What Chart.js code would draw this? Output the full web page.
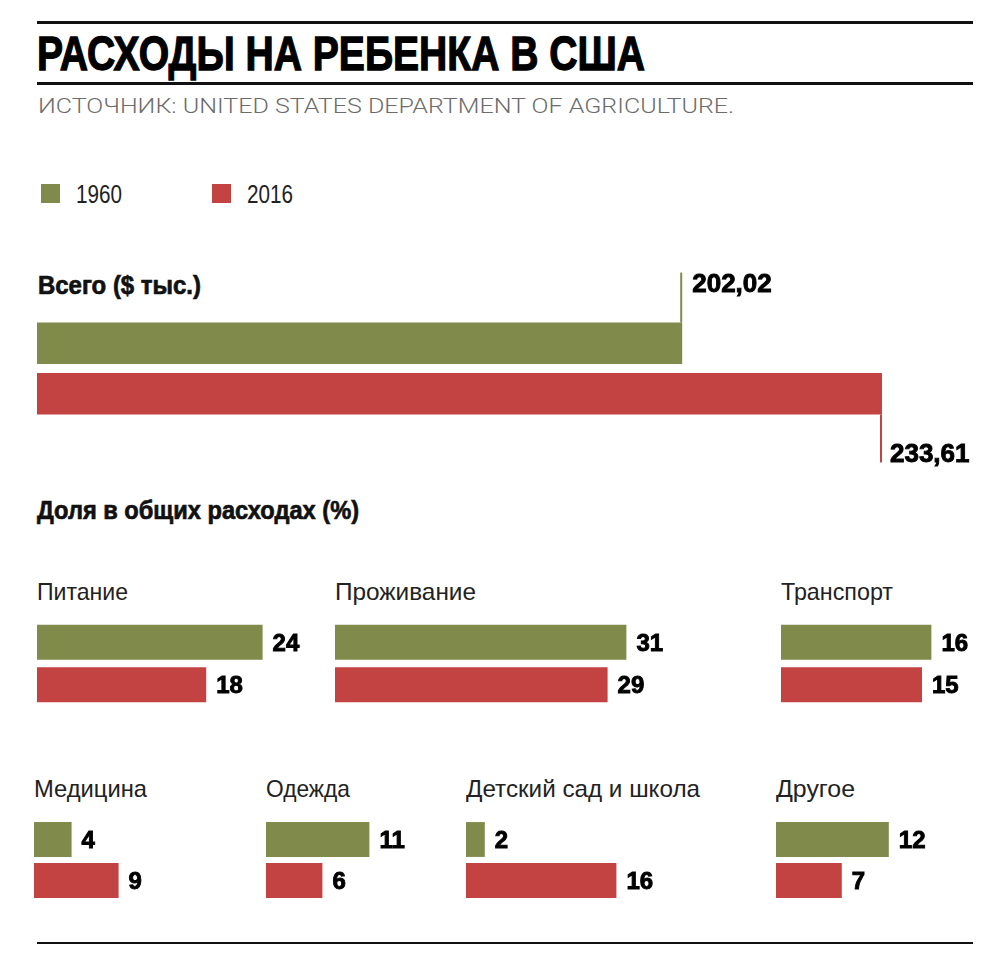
<!DOCTYPE html>
<html>
<head>
<meta charset="utf-8">
<script src="https://cdn.jsdelivr.net/npm/chart.js@4.4.1/dist/chart.umd.min.js"></script>
<style>
  html, body { margin: 0; padding: 0; background: #fff; }
  #page { position: relative; width: 1000px; height: 969px; overflow: hidden;
          font-family: "Liberation Sans Narrow", "Liberation Sans", Arial, sans-serif; color: #111; }
  .rule { position: absolute; left: 37px; width: 936px; background: #111; }
  .txt { position: absolute; white-space: nowrap; line-height: 1; transform-origin: 0 0; }
  .bold { font-weight: bold; -webkit-text-stroke: 0.7px #111; }
  .heavy { font-weight: bold; -webkit-text-stroke: 1.3px #000; color: #000; }
  .swatch { position: absolute; width: 19px; height: 19px; }
  canvas { position: absolute; }
</style>
</head>
<body>
<div id="page">
  <div class="rule" style="top:21px;height:3px"></div>
  <div class="txt heavy" data-w="608" style="left:37px;top:29px;font-size:49px">РАСХОДЫ НА РЕБЕНКА В США</div>
  <div class="rule" style="top:82px;height:2.5px"></div>
  <div class="txt" data-w="696" style="left:38px;top:96px;font-size:21px;color:#6b6b6b;font-family:Roboto,'Liberation Sans',sans-serif;font-weight:300">ИСТОЧНИК: UNITED STATES DEPARTMENT OF AGRICULTURE.</div>

  <div id="legend"></div>

  <div class="txt bold" data-w="163" style="left:38px;top:272px;font-size:26px">Всего ($ тыс.)</div>
  <canvas id="total" width="1000" height="220" style="left:0;top:260px"></canvas>

  <div class="txt bold" data-w="322" style="left:37px;top:497px;font-size:26px">Доля в общих расходах (%)</div>

  <div id="small"></div>

  <div class="rule" style="top:942px;height:2px"></div>
</div>

<script>
// data
const years = ['1960', '2016'];
const totals = [202.02, 233.61];
const categories = ['Питание', 'Проживание', 'Транспорт', 'Медицина', 'Одежда', 'Детский сад и школа', 'Другое'];
const share1960 = [24, 31, 16, 4, 11, 2, 12];
const share2016 = [18, 29, 15, 9, 6, 16, 7];

const colors = ['#7f8a4b', '#c24341'];

// where each small chart sits: left edge, row, label width
const smallPos = [
  { x: 37, row: 0, w: 91 },
  { x: 335, row: 0, w: 141 },
  { x: 781, row: 0, w: 112 },
  { x: 34, row: 1, w: 113 },
  { x: 266, row: 1, w: 84 },
  { x: 466, row: 1, w: 234 },
  { x: 776, row: 1, w: 79 }
];
const rows = [
  { labelTop: 580, top: 621, height: 85, barPct: 0.82 },
  { labelTop: 777, top: 819, height: 82, barPct: 0.85 }
];

const page = document.getElementById('page');

// legend
const legendX = [41, 212];
years.forEach((y, i) => {
  const sw = document.createElement('div');
  sw.className = 'swatch';
  sw.style.left = legendX[i] + 'px';
  sw.style.top = '184px';
  sw.style.background = colors[i];
  page.appendChild(sw);
  const t = document.createElement('div');
  t.className = 'txt';
  t.dataset.w = 46;
  t.style.left = (legendX[i] + 35) + 'px';
  t.style.top = '181px';
  t.style.fontSize = '26px';
  t.style.color = '#222';
  t.textContent = y;
  page.appendChild(t);
});

// value labels (and leader lines for the totals)
const valueLabels = {
  id: 'valueLabels',
  afterDatasetsDraw(chart, args, opts) {
    const ctx = chart.ctx;
    chart.data.datasets.forEach((ds, i) => {
      chart.getDatasetMeta(i).data.forEach((bar, j) => {
        const text = opts.format(ds.data[j]);
        const half = bar.height / 2;
        let tx, ty;
        ctx.save();
        if (opts.leaders) {
          ctx.strokeStyle = ds.backgroundColor;
          ctx.lineWidth = 2;
          ctx.beginPath();
          if (i === 0) {
            const top = bar.y - half;
            ctx.moveTo(bar.x - 1, top);
            ctx.lineTo(bar.x - 1, top - 50);
            tx = bar.x + 10; ty = top - 31;
          } else {
            const bottom = bar.y + half;
            ctx.moveTo(bar.x - 1, bottom);
            ctx.lineTo(bar.x - 1, bottom + 48);
            tx = bar.x + 8; ty = bottom + 48;
          }
          ctx.stroke();
        } else {
          tx = bar.x + 10; ty = bar.y + opts.size * 0.36;
        }
        ctx.fillStyle = '#000';
        ctx.strokeStyle = '#000';
        ctx.lineWidth = 0.9;
        ctx.font = 'bold ' + opts.size + 'px "Liberation Sans", Arial, sans-serif';
        ctx.textBaseline = 'alphabetic';
        ctx.fillText(text, tx, ty);
        ctx.strokeText(text, tx, ty);
        ctx.restore();
      });
    });
  }
};

function baseOptions(xMin, xMax, padding, barPct, labelOpts) {
  return {
    indexAxis: 'y',
    responsive: false,
    animation: false,
    layout: { padding: padding },
    datasets: { bar: { categoryPercentage: 1, barPercentage: barPct } },
    scales: {
      x: { display: false, min: xMin, max: xMax },
      y: { display: false }
    },
    plugins: {
      legend: { display: false },
      tooltip: { enabled: false },
      valueLabels: labelOpts
    }
  };
}

// totals chart
new Chart(document.getElementById('total'), {
  type: 'bar',
  data: {
    labels: ['Всего'],
    datasets: years.map((y, i) => ({ label: y, data: [totals[i]], backgroundColor: colors[i], borderWidth: 0 }))
  },
  options: baseOptions(100, 248, { left: 37, right: 27, top: 58, bottom: 61 }, 0.82,
    { leaders: true, size: 26, format: v => v.toFixed(2).replace('.', ',') }),
  plugins: [valueLabels]
});

// small share charts
categories.forEach((cat, k) => {
  const pos = smallPos[k];
  const row = rows[pos.row];

  const t = document.createElement('div');
  t.className = 'txt';
  t.dataset.w = pos.w;
  t.style.left = pos.x + 'px';
  t.style.top = row.labelTop + 'px';
  t.style.fontSize = '24px';
  t.style.color = '#222';
  t.textContent = cat;
  page.appendChild(t);

  const c = document.createElement('canvas');
  c.width = 420;
  c.height = row.height;
  c.style.left = pos.x + 'px';
  c.style.top = row.top + 'px';
  page.appendChild(c);

  new Chart(c, {
    type: 'bar',
    data: {
      labels: [cat],
      datasets: [
        { label: years[0], data: [share1960[k]], backgroundColor: colors[0], borderWidth: 0 },
        { label: years[1], data: [share2016[k]], backgroundColor: colors[1], borderWidth: 0 }
      ]
    },
    options: baseOptions(0, 40, { left: 0, right: 44, top: 0, bottom: 0 }, row.barPct,
      { leaders: false, size: 24, format: v => String(v) }),
    plugins: [valueLabels]
  });
});

// squeeze text to the widths in the picture
function fit() {
  document.querySelectorAll('.txt[data-w]').forEach(el => {
    el.style.transform = 'none';
    const w = el.getBoundingClientRect().width;
    if (w > 0) el.style.transform = 'scaleX(' + (el.dataset.w / w) + ')';
  });
}
fit();
if (document.fonts) document.fonts.ready.then(fit);
</script>
</body>
</html>
